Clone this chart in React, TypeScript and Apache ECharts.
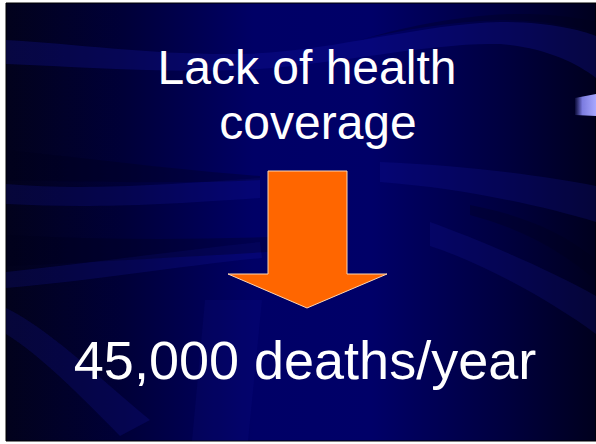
import React, { useEffect, useRef } from "react";
import * as echarts from "echarts";

// Slide content (text)
const titleLines = ["Lack of health", "coverage"];
const resultLines = ["45,000 deaths/year"];

// Decorative ribbons of the slide background (light / dark)
const lightRibbons = [
  "M6,40 C80,44 150,55 240,54 C330,52 420,24 500,22 C550,22 580,30 596,36 L596,78 C575,62 545,48 500,44 C430,42 330,66 240,70 C160,73 80,67 6,64 Z",
  "M6,184 C80,190 150,186 260,178 L260,198 C150,206 80,208 6,204 Z",
  "M380,162 C460,165 540,175 596,186 L596,222 C540,205 460,188 380,182 Z",
  "M6,272 C100,262 180,250 260,242 L262,258 C180,266 100,280 6,288 Z",
  "M430,222 C480,240 550,270 596,296 L596,334 C550,300 480,262 430,246 Z",
  "M6,308 C50,330 90,370 150,420 L120,436 C80,395 40,355 6,334 Z",
  "M205,300 L262,300 L248,441 L192,441 Z",
];
const darkRibbons = [
  "M360,40 C400,30 450,22 500,20 C540,20 570,26 596,32 L596,22 C560,14 520,12 480,16 C440,20 400,28 360,40 Z",
  "M6,150 C100,160 180,170 260,176 L260,180 C180,184 100,182 6,180 Z",
  "M6,235 C100,240 200,240 300,236 L300,250 C200,256 100,262 6,266 Z",
  "M596,260 C560,230 520,215 470,205 L470,215 C520,228 560,250 596,280 Z",
];

export default function App() {
  const ref = useRef<HTMLDivElement>(null);
  useEffect(() => {
    document.body.style.margin = "0";
    lightRibbons.forEach((d, i) =>
      echarts.graphic.registerShape("ribL" + i, echarts.graphic.extendPath(d, {}))
    );
    darkRibbons.forEach((d, i) =>
      echarts.graphic.registerShape("ribD" + i, echarts.graphic.extendPath(d, {}))
    );
    const chart = echarts.init(ref.current!, undefined, { renderer: "svg" });
    const font = '"Liberation Sans", Arial, sans-serif';
    const elements: any[] = [];
    elements.push({
      type: "rect",
      shape: { x: 6, y: 3, width: 590, height: 438 },
      style: {
        fill: new echarts.graphic.LinearGradient(0, 0, 1, 0, [
          { offset: 0, color: "#02021c" },
          { offset: 0.2, color: "#000038" },
          { offset: 0.42, color: "#000066" },
          { offset: 0.62, color: "#000068" },
          { offset: 0.85, color: "#00003e" },
          { offset: 1, color: "#00001e" },
        ]),
        stroke: "#000000",
        lineWidth: 1,
      },
    });
    const lightAlpha = [0.26, 0.2, 0.2, 0.2, 0.18, 0.2, 0.1];
    lightRibbons.forEach((_, i) =>
      elements.push({
        type: "ribL" + i,
        style: { fill: `rgba(25,25,175,${lightAlpha[i]})` },
      })
    );
    darkRibbons.forEach((_, i) =>
      elements.push({ type: "ribD" + i, style: { fill: "rgba(0,0,25,0.3)" } })
    );
    elements.push({
      type: "polygon",
      shape: { points: [[575, 98], [596, 94], [596, 116], [575, 115]] },
      style: {
        fill: new echarts.graphic.LinearGradient(0, 0, 1, 0, [
          { offset: 0, color: "rgba(110,110,220,0.1)" },
          { offset: 0.35, color: "#7c7ce0" },
          { offset: 1, color: "#a8a8ff" },
        ]),
      },
    });
    elements.push({
      type: "polygon",
      shape: {
        points: [
          [268, 171], [347, 171], [347, 274], [387, 274],
          [307, 308], [228, 274], [268, 274],
        ],
      },
      style: { fill: "#ff6600", stroke: "#ffd6b0", lineWidth: 1 },
    });
    const titleX = [307, 318];
    const titleY = [67, 122];
    titleLines.forEach((t, i) =>
      elements.push({
        type: "text",
        x: titleX[i],
        y: titleY[i],
        style: {
          text: t,
          font: "48px " + font,
          fill: "#ffffff",
          textAlign: "center",
          textVerticalAlign: "middle",
        },
      })
    );
    resultLines.forEach((t) =>
      elements.push({
        type: "text",
        x: 305,
        y: 360,
        style: {
          text: t,
          font: "54px " + font,
          fill: "#ffffff",
          textAlign: "center",
          textVerticalAlign: "middle",
        },
      })
    );
    chart.setOption({ animation: false, graphic: { elements } });
    return () => chart.dispose();
  }, []);
  return <div ref={ref} style={{ width: 596, height: 444, background: "#ffffff" }} />;
}
